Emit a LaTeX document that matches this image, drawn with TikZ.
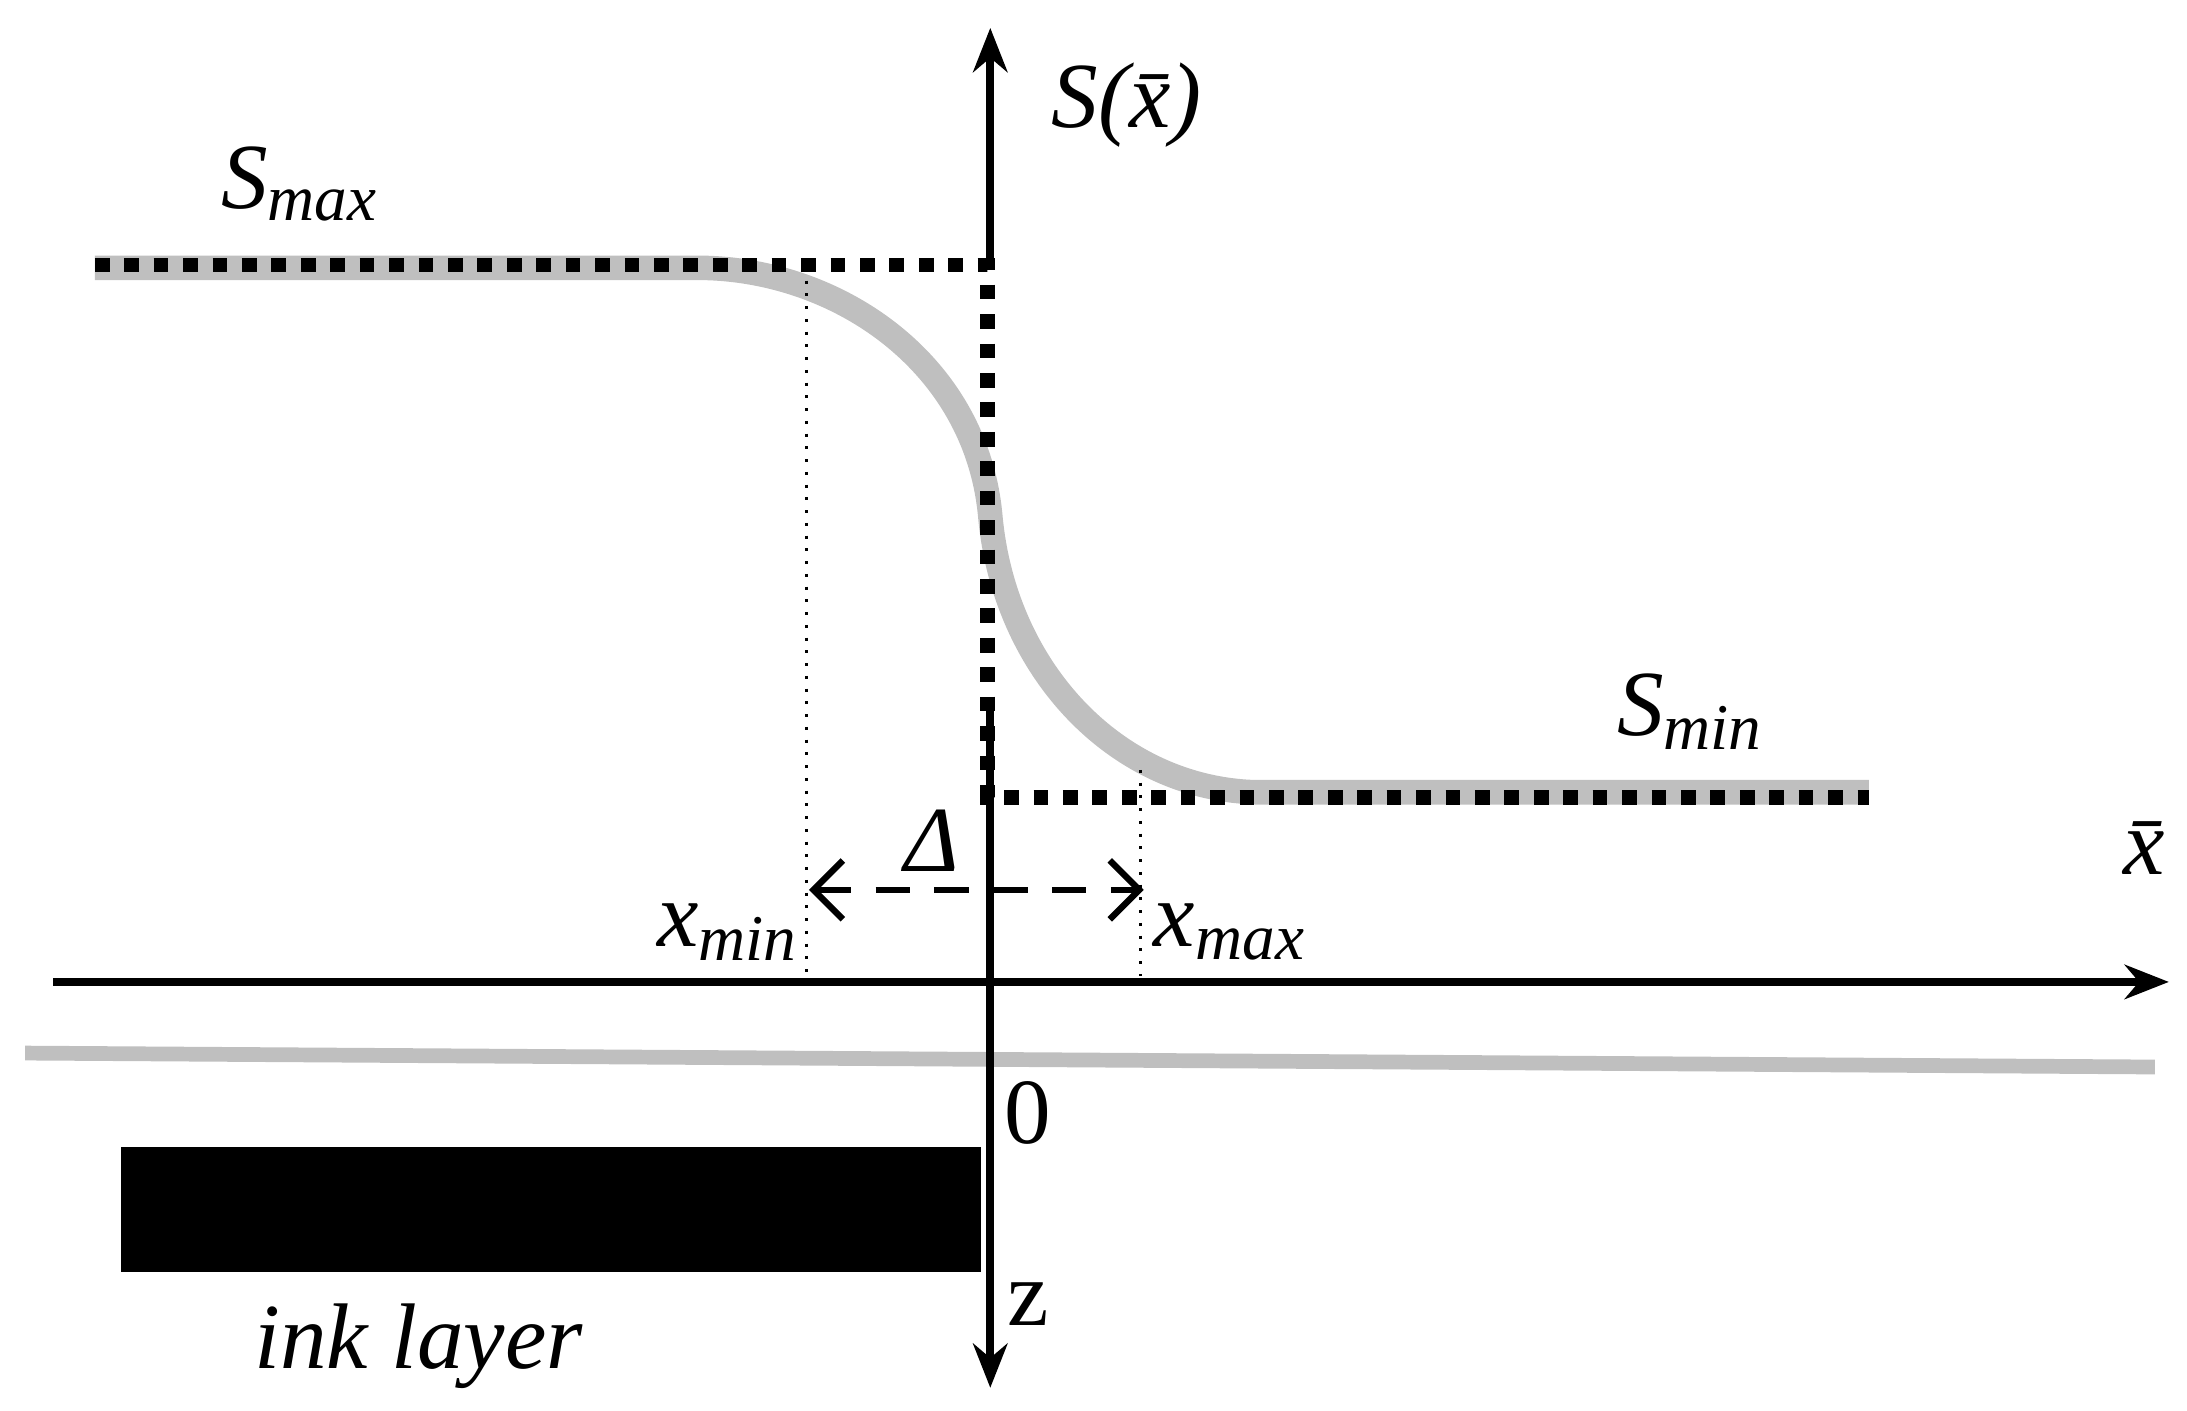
\documentclass[tikz,border=0pt]{standalone}
\usepackage{fontspec}
\setmainfont{Liberation Serif}
\usetikzlibrary{arrows.meta}
\begin{document}
\begin{tikzpicture}[x=0.01cm,y=-0.01cm,
  ax/.style={line width=1.6pt,-{Stealth[length=9pt,width=7pt]}},
  dotb/.style={line width=3pt,dash pattern=on 3pt off 3pt},
  gr/.style={gray!50,line width=5pt},
  thin dot/.style={line width=0.6pt,dotted},
  lbl/.style={font=\fontsize{19}{21}\selectfont}]
\useasboundingbox (0,0) rectangle (1568,1011);
% gray ground line
\draw[gray!50,line width=3pt] (18,755) -- (1545,765);
% gray curve
\draw[gr] (68,192) -- (500,192) .. controls (600,192) and (700,260) .. (710,370)
  .. controls (720,480) and (800,565) .. (900,568) -- (1340,568);
% ink layer
\fill (87,822) rectangle (703,912);
% axes
\draw[ax] (38,704) -- (1555,704);
\draw[line width=1.6pt,{Stealth[length=9pt,width=7pt]}-] (710,995) -- (710,510);
\draw[ax] (710,190) -- (710,20);
% dotted step
\draw[dotb] (68,190) -- (708,190) -- (708,572) -- (1340,572);
% thin dotted verticals
\draw[thin dot] (578,192) -- (578,700);
\draw[thin dot] (818,552) -- (818,700);
% Delta arrow
\draw[line width=1.3pt,dash pattern=on 7pt off 5pt,{Straight Barb[length=6pt,width=12pt]}-{Straight Barb[length=6pt,width=12pt]}] (580,638) -- (820,638);
% labels
\node[lbl] (s) at (808,75) {\itshape S(\={x})};
\node[lbl] (smax) at (215,132) {\itshape S\textsubscript{max}};
\node[lbl] (smin) at (1212,510) {\itshape S\textsubscript{min}};
\node[lbl] (xb) at (1537,608) {\itshape \={x}};
\node[lbl] (d) at (668,603) {\itshape Δ};
\node[lbl] (xmin) at (522,668) {\itshape x\textsubscript{min}};
\node[lbl] (xmax) at (882,668) {\itshape x\textsubscript{max}};
\node[lbl] (zero) at (737,798) {0};
\node[lbl] (z) at (737,935) {z};
\node[lbl] (ink) at (300,965) {\itshape ink layer};
\end{tikzpicture}
\end{document}
